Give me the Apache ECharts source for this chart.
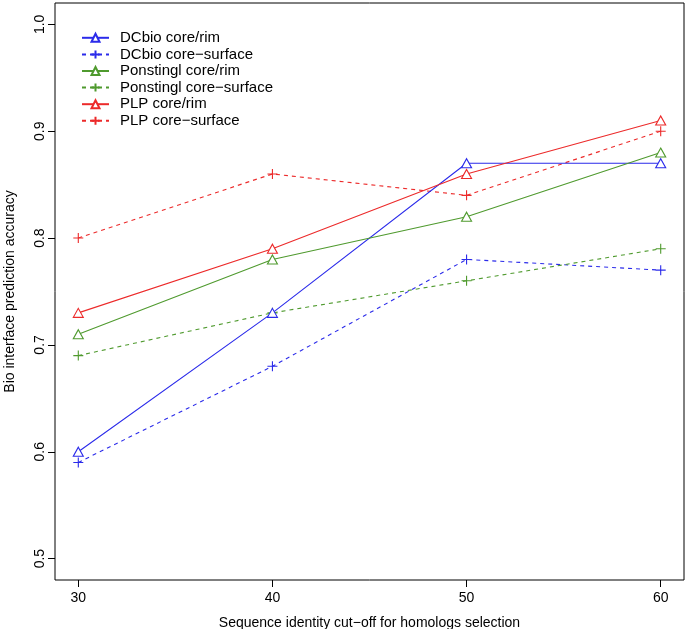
<!DOCTYPE html>
<html><head><meta charset="utf-8">
<script src="https://cdn.jsdelivr.net/npm/echarts@6/dist/echarts.min.js"></script>
<style>html,body{margin:0;padding:0;background:#fff}#c{width:685px;height:629px}</style>
</head><body><div id="c"></div>
<script>
const xValues = [30, 40, 50, 60];
const xTicks = [30, 40, 50, 60];
const yTicks = [0.5, 0.6, 0.7, 0.8, 0.9, 1.0];
const seriesNames = ['DCbio core/rim', 'DCbio core\u2212surface', 'Ponstingl core/rim', 'Ponstingl core\u2212surface', 'PLP core/rim', 'PLP core\u2212surface'];
const dcbioRim = [0.60, 0.73, 0.87, 0.87];
const dcbioSurface = [0.59, 0.68, 0.78, 0.77];
const ponstinglRim = [0.71, 0.78, 0.82, 0.88];
const ponstinglSurface = [0.69, 0.73, 0.76, 0.79];
const plpRim = [0.73, 0.79, 0.86, 0.91];
const plpSurface = [0.80, 0.86, 0.84, 0.90];

const BLUE = '#2b2bea', GREEN = '#4f9a2e', RED = '#ec2a2a';
const FONT = '"Liberation Sans", Arial, sans-serif';
const PLUS = 'path://M0,5 L10,5 M5,0 L5,10';

function mk(name, vals, color, rim) {
  return {
    name: name, type: 'line',
    data: xValues.map((x, i) => [x, vals[i]]),
    symbol: rim ? 'triangle' : PLUS,
    symbolSize: rim ? [10, 9] : 10,
    showSymbol: true,
    lineStyle: { color: color, width: 1.1, type: rim ? 'solid' : [4, 4] },
    itemStyle: { color: rim ? '#fff' : 'none', borderColor: color, borderWidth: 1.1 },
    emphasis: { disabled: true },
    animation: false, z: rim ? 3 : 2
  };
}

const chart = echarts.init(document.getElementById('c'), null, { renderer: 'canvas' });
chart.setOption({
  animation: false,
  grid: { left: 55, right: 1, top: 3, bottom: 49, outerBoundsMode: 'none', containLabel: false, show: true, borderColor: '#000', borderWidth: 1, backgroundColor: 'transparent' },
  legend: {
    orient: 'vertical', left: 81, top: 29.5, padding: 0,
    itemWidth: 27, itemHeight: 10, itemGap: 0,
    textStyle: { fontFamily: FONT, fontSize: 15, color: '#000', lineHeight: 16.6, padding: [0, 0, 0, 6] },
    data: seriesNames
  },
  xAxis: {
    type: 'value', min: 28.8, max: 61.2,
    name: 'Sequence identity cut\u2212off for homologs selection',
    nameLocation: 'middle', nameGap: 36,
    nameTextStyle: { fontFamily: FONT, fontSize: 14, color: '#000' },
    axisLine: { show: false },
    splitLine: { show: false },
    axisTick: { show: true, inside: false, length: 7, lineStyle: { color: '#000' }, customValues: xTicks },
    axisLabel: { fontFamily: FONT, fontSize: 14, color: '#000', margin: 11, customValues: xTicks, formatter: v => String(v) }
  },
  yAxis: {
    type: 'value', min: 0.48, max: 1.02,
    name: 'Bio interface prediction accuracy',
    nameLocation: 'middle', nameGap: 38, nameRotate: 90,
    nameTextStyle: { fontFamily: FONT, fontSize: 14, color: '#000' },
    axisLine: { show: false },
    splitLine: { show: false },
    axisTick: { show: true, inside: false, length: 7, lineStyle: { color: '#000' }, customValues: yTicks },
    axisLabel: { fontFamily: FONT, fontSize: 14, color: '#000', margin: 8, rotate: 90, customValues: yTicks, formatter: v => v.toFixed(1) }
  },
  series: [
    mk(seriesNames[0], dcbioRim, BLUE, true),
    mk(seriesNames[1], dcbioSurface, BLUE, false),
    mk(seriesNames[2], ponstinglRim, GREEN, true),
    mk(seriesNames[3], ponstinglSurface, GREEN, false),
    mk(seriesNames[4], plpRim, RED, true),
    mk(seriesNames[5], plpSurface, RED, false)
  ]
});
</script></body></html>
